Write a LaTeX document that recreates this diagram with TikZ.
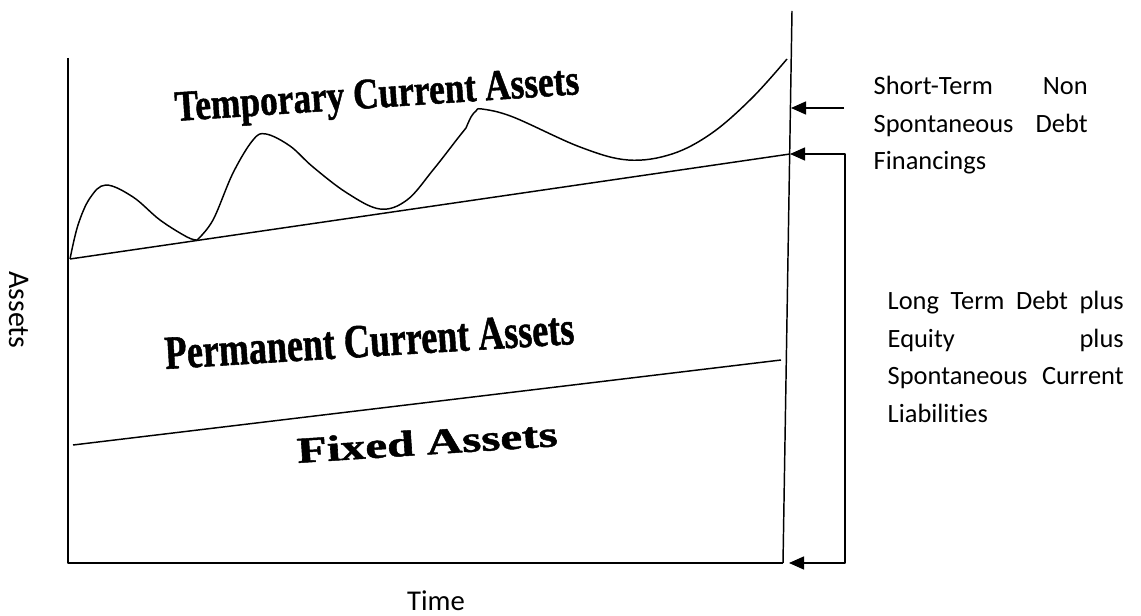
\documentclass[tikz,border=0pt]{standalone}
\usepackage{fontspec}
\setmainfont{Liberation Serif}
\newfontfamily\heavyserif[FakeBold=1.2]{Liberation Serif Bold}
\newfontfamily\calibri[Ligatures=NoCommon]{Carlito}
\usetikzlibrary{arrows.meta}
\begin{document}
\begin{tikzpicture}[x=0.75pt,y=-0.75pt, line width=1.1pt, line join=round,
  fin/.style={-{Triangle[length=11.25pt,width=9.75pt]}},
  bracket/.style={{Triangle[length=11.25pt,width=9.75pt]}-{Triangle[length=11.25pt,width=9.75pt]}},
  band/.style={inner sep=0pt, anchor=base west, font=\heavyserif},
  side/.style={inner sep=0pt, anchor=base west, font=\calibri\fontsize{19.8}{28.1}\selectfont}]
\useasboundingbox (0,0) rectangle (1141,616);

% axes and the right-hand boundary
\coordinate (o) at (68,563);
\coordinate (ytop) at (68,58);
\coordinate (rtop) at (792,11);
\coordinate (rbot) at (783,563);
\draw (ytop) -- (o) -- (rbot);
\draw (rtop) -- (rbot);

% level of permanent current assets
\coordinate (p0) at (70,259);
\coordinate (p1) at (790,154);
\draw (p0) -- (p1);

% level of fixed assets
\coordinate (f0) at (73,445);
\coordinate (f1) at (781,360);
\draw (f0) -- (f1);

% fluctuating total assets
\draw plot[smooth, tension=0.6] coordinates {(70,259) (78,225) (90,198) (106,185) (133,197) (160,220) (187,237) (197,240)};
\draw plot[smooth, tension=0.6] coordinates {(197,240) (213,220) (233,173) (253,140) (266,134) (290,146) (313,167) (347,193) (380,209) (407,200) (433,170) (458,138) (466,128)};
\draw plot[smooth, tension=0.6] coordinates {(466,128) (471,117) (476,111) (482,109) (513,117) (580,147) (628,160) (672,154) (712,133) (752,98) (787,59)};

% financing arrows
\coordinate (a1s) at (844,108);
\coordinate (a1e) at (791,108);
\draw[fin] (a1s) -- (a1e);
\coordinate (b1) at (845,154);
\coordinate (b2) at (845,563);
\coordinate (b3) at (789,563);
\draw[bracket] (p1) -- (b1) -- (b2) -- (b3);

% band labels
\node[band, rotate=3.8] (tca) at (175,121) {\resizebox{303.75pt}{21.5pt}{Temporary Current Assets}};
\node[band, rotate=3.5] (pca) at (165,369) {\resizebox{307.5pt}{23.5pt}{Permanent Current Assets}};
\node[band, rotate=3.7] (fa) at (297,463) {\resizebox{195.75pt}{19pt}{Fixed Assets}};

% financing labels
\node[side] (st) at (873,95) {\vtop{\hsize=160.5pt \parindent=0pt
  \makebox[\hsize][s]{Short-Term Non}\par
  \makebox[\hsize][s]{Spontaneous Debt}\par
  Financings}};
\node[side] (lt) at (887,310) {\vtop{\hsize=177pt \parindent=0pt
  \makebox[\hsize][s]{Long Term Debt plus}\par
  \makebox[\hsize][s]{Equity plus}\par
  \makebox[\hsize][s]{Spontaneous Current}\par
  Liabilities}};

% axis titles
\node[side, anchor=center, rotate=-90, font=\calibri\fontsize{22.5}{27}\selectfont] (yl) at (19,310) {Assets};
\node[side, anchor=base, font=\calibri\fontsize{21.5}{26}\selectfont] (xl) at (436,610) {Time};
\end{tikzpicture}
\end{document}
